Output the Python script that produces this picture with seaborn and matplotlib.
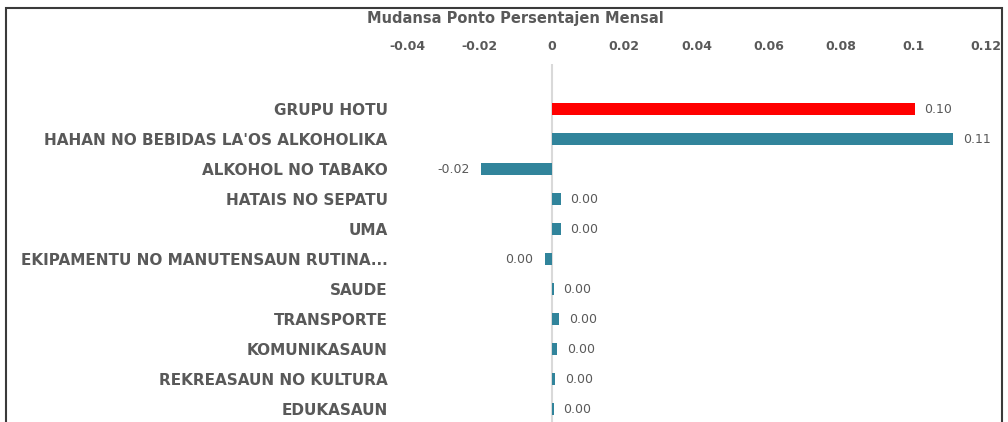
import matplotlib
matplotlib.use("Agg")
import matplotlib.pyplot as plt
import seaborn as sns
from matplotlib.patches import Rectangle

# data
categories = [
    "GRUPU HOTU",
    "HAHAN NO BEBIDAS LA'OS ALKOHOLIKA",
    "ALKOHOL NO TABAKO",
    "HATAIS NO SEPATU",
    "UMA",
    "EKIPAMENTU NO MANUTENSAUN RUTINA...",
    "SAUDE",
    "TRANSPORTE",
    "KOMUNIKASAUN",
    "REKREASAUN NO KULTURA",
    "EDUKASAUN",
]
values = [0.1003, 0.111, -0.0196, 0.0025, 0.0025, -0.002, 0.0005, 0.002, 0.0015, 0.001, 0.0005]
tick_values = [-0.04, -0.02, 0, 0.02, 0.04, 0.06, 0.08, 0.1, 0.12]
tick_labels = ["-0.04", "-0.02", "0", "0.02", "0.04", "0.06", "0.08", "0.1", "0.12"]

red = "#FF0000"
teal = "#31849B"
grey_txt = "#595959"

sns.set_theme(style="white")
plt.rcParams["font.family"] = ["DejaVu Sans"]

fig = plt.figure(figsize=(10.08, 4.22), dpi=100)
ax = fig.add_axes([407 / 1008, 0, (986 - 407) / 1008, 1 - 64 / 422])

palette = [red] + [teal] * (len(categories) - 1)
sns.barplot(x=values, y=categories, hue=categories, palette=palette,
            width=0.38, orient="h", legend=False, dodge=False, ax=ax,
            saturation=1, linewidth=0)

ax.set_xlim(-0.04, 0.12)
ax.set_ylim(10.43, -1.5)
ax.axvline(0, color="#D9D9D9", lw=1.5, zorder=0)

for s in ax.spines.values():
    s.set_visible(False)

ax.xaxis.tick_top()
ax.set_xticks(tick_values)
ax.set_xticklabels(tick_labels, fontsize=9, fontweight="bold", color=grey_txt)
ax.tick_params(axis="x", length=0, pad=8)
ax.tick_params(axis="y", length=0, pad=14)
for lab in ax.get_yticklabels():
    lab.set_fontsize(11)
    lab.set_fontweight("bold")
    lab.set_color(grey_txt)
ax.set_xlabel("")
ax.set_ylabel("")

# data labels
for i, v in enumerate(values):
    txt = f"{v:.2f}"
    if txt == "-0.00":
        txt = "0.00"
    if v >= 0:
        ax.annotate(txt, (v, i), xytext=(7, 0), textcoords="offset points",
                    ha="left", va="center", fontsize=9, color=grey_txt)
    else:
        ax.annotate(txt, (v, i), xytext=(-8, 0), textcoords="offset points",
                    ha="right", va="center", fontsize=9, color=grey_txt)

fig.text(515 / 1008, 1 - 18 / 422, "Mudansa Ponto Persentajen Mensal",
         ha="center", va="center", fontsize=10.5, fontweight="bold", color=grey_txt)

# outer frame of the chart area
frame = Rectangle((6 / 1008, -0.05), (1002 - 6) / 1008, 1.05 - 8 / 422,
                  transform=fig.transFigure, fill=False, edgecolor="#3a3a3a",
                  lw=1.5, clip_on=False)
fig.patches.append(frame)

fig.savefig("out.png", dpi=100)
